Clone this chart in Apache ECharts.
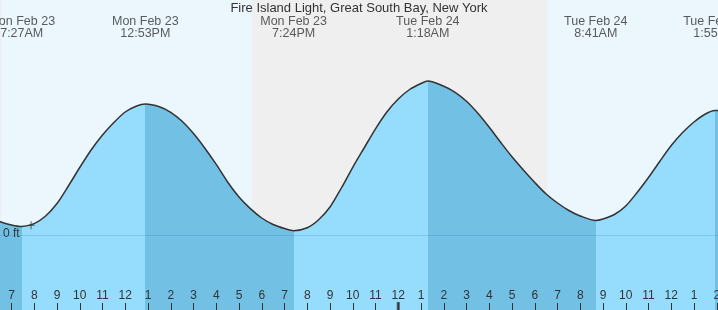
<!DOCTYPE html>
<html>
<head>
<meta charset="utf-8">
<script src="https://cdn.jsdelivr.net/npm/echarts@6/dist/echarts.min.js"></script>
<style>
html,body{margin:0;padding:0;background:#ebf6fd;}
#chart{width:718px;height:310px;}
</style>
</head>
<body>
<div id="chart"></div>
<script>
// Hours since Mon Feb 23 00:00 and tide height (ft)
const times   = [6, 6.5, 7, 7.45, 8, 8.5, 9, 9.5, 10, 10.5, 11, 11.5, 12, 12.5, 12.883, 13.5, 14, 14.5, 15, 15.5, 16, 16.5, 17, 17.5, 18, 18.5, 19, 19.4, 20, 20.5, 21, 21.5, 22, 22.5, 23, 23.5, 24, 24.5, 25, 25.3, 26, 26.5, 27, 27.5, 28, 28.5, 29, 29.5, 30, 30.5, 31, 31.5, 32, 32.683, 33, 33.5, 34, 34.5, 35, 35.5, 36, 36.5, 37, 37.5, 37.917, 38.5, 39];
const heights = [0.18, 0.136, 0.103, 0.088, 0.117, 0.193, 0.318, 0.493, 0.678, 0.853, 1.003, 1.128, 1.233, 1.293, 1.313, 1.286, 1.23, 1.14, 1.017, 0.871, 0.709, 0.533, 0.383, 0.267, 0.173, 0.108, 0.068, 0.046, 0.075, 0.155, 0.283, 0.473, 0.68, 0.873, 1.065, 1.233, 1.363, 1.458, 1.518, 1.543, 1.49, 1.43, 1.34, 1.22, 1.08, 0.93, 0.785, 0.653, 0.528, 0.413, 0.323, 0.248, 0.193, 0.148, 0.163, 0.208, 0.293, 0.428, 0.578, 0.741, 0.898, 1.028, 1.133, 1.213, 1.248, 1.238, 1.218];

// High / low tide events
const tideTimes = [7.45, 12.883, 19.4, 25.3, 32.683, 37.917];
const tideDates = ['Mon Feb 23', 'Mon Feb 23', 'Mon Feb 23', 'Tue Feb 24', 'Tue Feb 24', 'Tue Feb 24'];
const tideClock = ['7:27AM', '12:53PM', '7:24PM', '1:18AM', '8:41AM', '1:55PM'];
const tideRising = [true, false, true, false, true, false]; // segment starting at each event

// Night (sunset -> sunrise)
const nightStarts = [6, 17.57];
const nightEnds   = [6.55, 30.54];

// Marker and midnight tick
const nowTime = 7.86, nowHeight = 0.10;
const midnightTimes = [24];

const titleText = 'Fire Island Light, Great South Bay, New York';
const zeroLabel = '0 ft';

const FONT = '"Liberation Sans", Arial, sans-serif';
const LIGHT = '#96dcfc', DARK = '#72c1e5';
const yMin = -0.747, yMax = 2.353;

const pieces = [];
pieces.push({lt: tideTimes[0], color: tideRising[0] ? DARK : LIGHT});
for (let i = 0; i < tideTimes.length; i++) {
  const p = {gte: tideTimes[i], color: tideRising[i] ? LIGHT : DARK};
  if (i + 1 < tideTimes.length) p.lt = tideTimes[i + 1];
  pieces.push(p);
}

const chart = echarts.init(document.getElementById('chart'), null, {renderer: 'canvas'});
chart.setOption({
  animation: false,
  backgroundColor: '#ebf6fd',
  title: {
    text: titleText, left: 'center', top: 1.5, padding: 0,
    textStyle: {fontSize: 13, fontWeight: 'normal', color: '#333', fontFamily: FONT}
  },
  grid: {left: -11.25, right: -21.5, top: 0, bottom: 0, containLabel: false, outerBoundsMode: 'none'},
  xAxis: {
    type: 'value', min: 6, max: 39, interval: 1, z: 4, position: 'bottom',
    axisLine: {show: false, onZero: false},
    axisTick: {show: true, inside: true, length: 7, lineStyle: {color: '#333', width: 1}},
    axisLabel: {
      inside: true, margin: 8, fontSize: 12, color: '#333', fontFamily: FONT,
      formatter: v => { const h = ((v % 12) + 12) % 12; return h === 0 ? '12' : String(h); }
    },
    splitLine: {show: false}
  },
  yAxis: {type: 'value', min: yMin, max: yMax, show: false, splitLine: {show: false}},
  visualMap: {show: false, type: 'piecewise', dimension: 0, seriesIndex: 1, pieces: pieces},
  graphic: [{
    type: 'text', left: 3, top: 228, z: 100,
    style: {text: zeroLabel, fontSize: 12, fill: '#333', fontFamily: FONT}
  }],
  series: [
    {
      type: 'line', z: 1, silent: true, symbol: 'none',
      data: [],
      markArea: {
        silent: true,
        itemStyle: {color: '#efefef'},
        data: nightStarts.map((s, i) => [{xAxis: s}, {xAxis: nightEnds[i]}])
      }
    },
    {
      type: 'line', z: 2, smooth: 0.3, symbol: 'none', silent: true,
      data: times.map((t, i) => [t, heights[i]]),
      lineStyle: {color: '#333', width: 1.5},
      areaStyle: {opacity: 1, origin: 'start'},
      markLine: {
        silent: true, symbol: 'none', label: {show: false},
        lineStyle: {color: 'rgba(40,130,190,0.25)', width: 1, type: 'solid'},
        data: [{yAxis: 0}]
      }
    },
    {
      type: 'scatter', z: 5, clip: false, silent: true,
      symbol: 'path://M0,4L8,4M4,0L4,8', symbolSize: [7, 8],
      itemStyle: {color: 'none', borderColor: '#333', borderWidth: 1},
      data: [[nowTime, nowHeight]]
    },
    {
      type: 'scatter', z: 5, clip: false, silent: true,
      symbol: 'rect', symbolSize: [3, 16],
      itemStyle: {color: '#333'},
      data: midnightTimes.map(t => [t, yMin])
    },
    {
      type: 'scatter', z: 6, clip: false, silent: true,
      symbolSize: 0,
      data: tideTimes.map(t => [t, yMax]),
      label: {
        show: true, position: 'bottom', distance: 15, align: 'center',
        fontSize: 12.5, lineHeight: 12.5, color: '#333', fontFamily: FONT,
        formatter: p => tideDates[p.dataIndex] + '\n' + tideClock[p.dataIndex]
      }
    }
  ]
});
</script>
</body>
</html>
